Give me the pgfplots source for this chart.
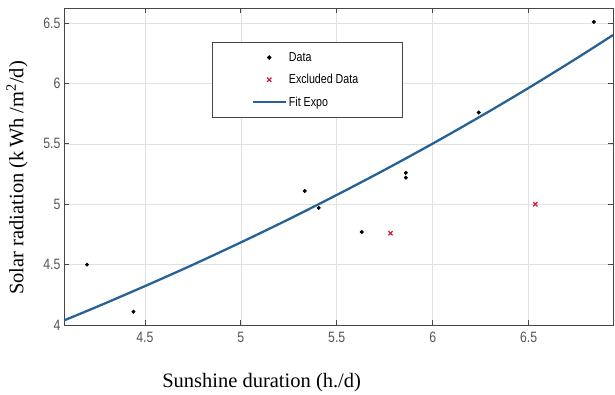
\documentclass[border=0pt]{standalone}
\usepackage{fontspec}
\setmainfont{Liberation Serif}
\newfontfamily\narrowsans[FakeStretch=0.82]{Liberation Sans}
\usepackage{pgfplots}
\pgfplotsset{compat=1.18}
\definecolor{fitblue}{RGB}{38,98,150}
\definecolor{exred}{RGB}{205,30,60}
\definecolor{gridgray}{RGB}{225,225,225}
\definecolor{axgray}{RGB}{70,70,70}
\definecolor{ticktext}{RGB}{85,85,85}
\newcommand\lent[1]{\makebox[72bp][l]{#1}}
\begin{document}
\begin{tikzpicture}
\path[use as bounding box] (-64bp,-70bp) rectangle (551bp,325bp);
\begin{axis}[
  at={(0,0)}, anchor=origin,
  scale only axis,
  width=549bp, height=317bp,
  xmin=4.078, xmax=6.94,
  ymin=4, ymax=6.625,
  xtick={4.5,5,5.5,6,6.5},
  ytick={4,4.5,5,5.5,6,6.5},
  xticklabels={4.5,5,5.5,6,6.5},
  yticklabels={4,4.5,5,5.5,6,6.5},
  tick align=inside,
  major tick length=5bp,
  tick style={axgray, line width=0.8pt},
  axis line style={axgray, line width=0.9pt},
  grid=major,
  major grid style={gridgray, line width=0.7pt},
  tick label style={font=\fontsize{15bp}{15bp}\narrowsans, text=ticktext},
  xticklabel style={yshift=-4bp},
  xlabel={Sunshine duration (h./d)},
  ylabel={Solar radiation (k\,Wh /m\textsuperscript{2}/d)},
  label style={font=\fontsize{20.5bp}{22bp}\selectfont, text=black},
  xlabel style={at={(axis description cs:0.36,0)}, anchor=center, yshift=-58bp},
  ylabel style={at={(axis description cs:-0.0856,0.464)}, anchor=center},
  legend style={at={(axis description cs:0.27,0.893)}, anchor=north west,
    draw=axgray, line width=0.8pt, fill=white,
    font=\fontsize{13bp}{13bp}\narrowsans,
    row sep=7.5bp, inner xsep=39bp, inner ysep=8bp,
    cells={anchor=west}},
  legend image code/.code={\draw[mark repeat=2,mark phase=2,#1] plot coordinates {(0bp,0bp) (16.5bp,0bp) (33bp,0bp)};},
  clip=true,
]
\addplot[only marks, mark=*, mark size=1.8pt, black] coordinates {
 (4.198,4.50) (4.44,4.11) (5.333,5.11) (5.406,4.97) (5.63,4.77)
 (5.86,5.22) (5.86,5.26) (6.24,5.76) (6.84,6.51)
};
\addlegendentry{\lent{Data}}
\addplot[only marks, mark=x, mark size=3pt, exred, line width=1.2pt] coordinates {
 (5.78,4.76) (6.535,5.00)
};
\addlegendentry{\lent{Excluded Data}}
\addplot[fitblue, line width=2.3pt, smooth] coordinates {
 (4.078,4.038) (4.25,4.151) (4.5,4.322) (4.75,4.499) (5.0,4.684)
 (5.25,4.876) (5.5,5.077) (5.75,5.285) (6.0,5.502) (6.25,5.728)
 (6.5,5.963) (6.75,6.208) (6.94,6.401)
};
\addlegendentry{\lent{Fit Expo}}
\end{axis}
\end{tikzpicture}
\end{document}
